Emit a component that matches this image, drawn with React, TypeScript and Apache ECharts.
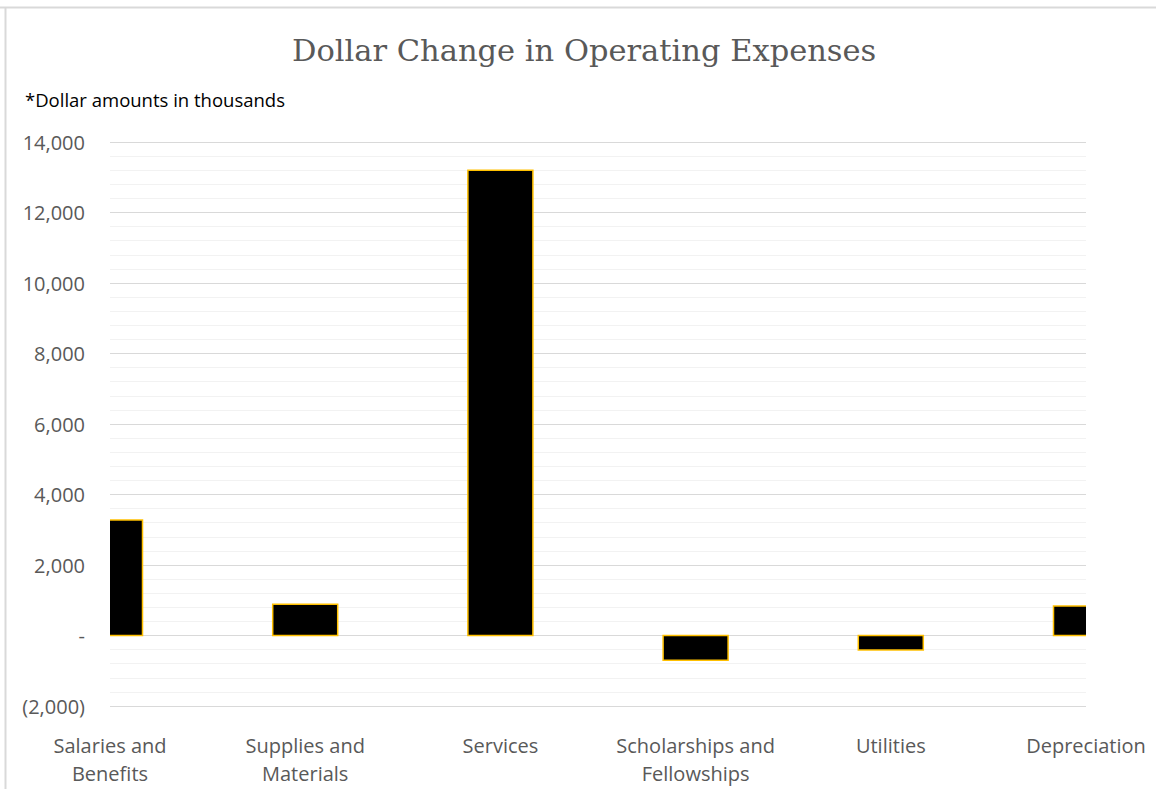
import React, { useEffect, useRef } from "react";
import * as echarts from "echarts";

const categories = [
  "Salaries and\nBenefits",
  "Supplies and\nMaterials",
  "Services",
  "Scholarships and\nFellowships",
  "Utilities",
  "Depreciation",
];
const values = [3280, 890, 13200, -700, -410, 840];
const yMin = -2000;
const yMax = 14000;
const yInterval = 2000;
const titleText = "Dollar Change in Operating Expenses";
const noteText = "*Dollar amounts in thousands";

const fmt = (v: number) => {
  if (v === 0) return "-";
  const s = Math.abs(v).toLocaleString("en-US");
  return v < 0 ? `(${s})` : s;
};

export default function App() {
  const ref = useRef<HTMLDivElement>(null);
  useEffect(() => {
    if (!ref.current) return;
    const chart = echarts.init(ref.current, null, { renderer: "svg" });
    const barW = 65;
    chart.setOption({
      animation: false,
      backgroundColor: "#ffffff",
      title: {
        text: titleText,
        left: 287,
        top: 30,
        textStyle: {
          fontFamily: "DejaVu Serif",
          fontSize: 30.5,
          fontWeight: "normal",
          color: "#595959",
        },
      },
      graphic: [
        {
          type: "line",
          shape: { x1: 0, y1: 7.5, x2: 1156, y2: 7.5 },
          style: { stroke: "#d9d9d9", lineWidth: 2 },
        },
        {
          type: "line",
          shape: { x1: 5.5, y1: 7, x2: 5.5, y2: 789 },
          style: { stroke: "#d9d9d9", lineWidth: 2 },
        },
        {
          type: "text",
          left: 25,
          top: 90,
          style: {
            text: noteText,
            fontFamily: "Open Sans",
            fontSize: 18.5,
            fill: "#000000",
          },
        },
      ],
      grid: { left: 110, right: 70, top: 142, bottom: 83, containLabel: false },
      xAxis: {
        type: "category",
        data: categories,
        boundaryGap: false,
        axisLine: { show: false },
        axisTick: { show: false },
        splitLine: { show: false },
        axisLabel: {
          interval: 0,
          margin: 25,
          fontFamily: "Open Sans",
          fontSize: 20,
          lineHeight: 28,
          color: "#595959",
          align: "center",
        },
      },
      yAxis: {
        type: "value",
        min: yMin,
        max: yMax,
        interval: yInterval,
        axisLine: { show: false },
        axisTick: { show: false },
        minorTick: { show: false, splitNumber: 5 },
        splitLine: { lineStyle: { color: "#d9d9d9", width: 1 } },
        minorSplitLine: { show: true, lineStyle: { color: "#f2f2f2", width: 1 } },
        axisLabel: {
          formatter: fmt,
          margin: 25,
          fontFamily: "Open Sans",
          fontSize: 20,
          color: "#595959",
        },
      },
      series: [
        {
          type: "custom",
          data: values.map((v, i) => [i, v]),
          encode: { x: 0, y: 1 },
          renderItem: (params: any, api: any) => {
            const base = api.coord([api.value(0), 0]);
            const top = api.coord([api.value(0), api.value(1)]);
            const cs = params.coordSys;
            const y = Math.min(base[1], top[1]);
            const h = Math.abs(base[1] - top[1]);
            return {
              type: "rect",
              shape: { x: base[0] - barW / 2, y, width: barW, height: h },
              style: { fill: "#000000", stroke: "#FFC000", lineWidth: 1.5 },
              clipPath: {
                type: "rect",
                shape: { x: cs.x, y: cs.y - 2, width: cs.width, height: cs.height + 4 },
              },
            };
          },
        },
      ],
    });
    return () => chart.dispose();
  }, []);
  return (
    <div
      ref={ref}
      style={{ position: "absolute", left: 0, top: 0, width: 1156, height: 789 }}
    />
  );
}
